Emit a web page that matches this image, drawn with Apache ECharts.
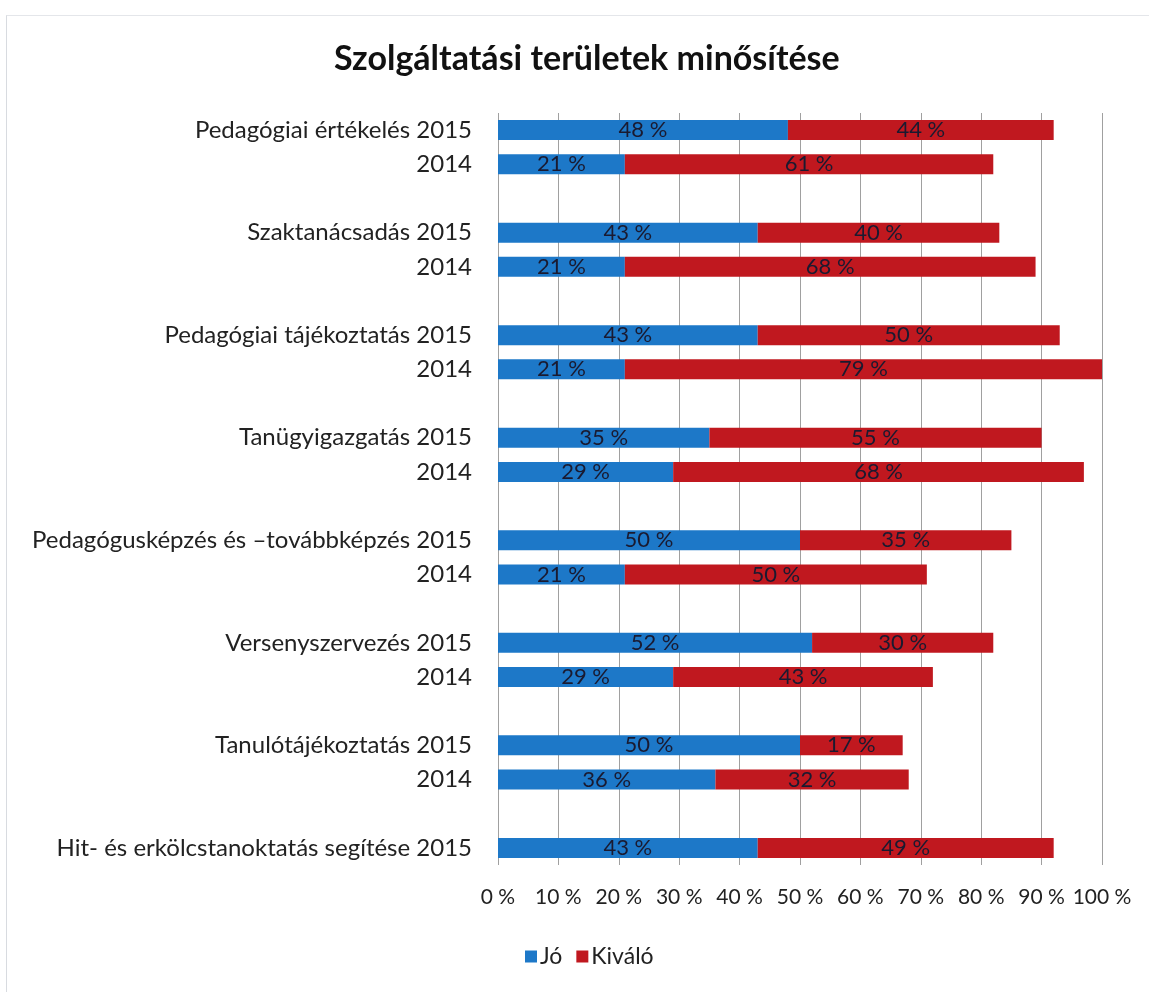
<!DOCTYPE html>
<html>
    <head>
        <meta charset="utf-8">
        <script src="https://cdn.jsdelivr.net/npm/echarts@6/dist/echarts.min.js"></script>
    </head>
    <body>
        <style>
            html, body {
                margin: 0;
                background: #fff;
            }
            #main {
                position: absolute;
                left: 6px;
                top: 15px;
                width: 1143px;
                height: 977px;
                border-left: 1px solid #d8dbe0;
                border-top: 1px solid #e4e6ea;
            }
        </style>

        <div id="main"></div>

        <script>
            // üres sorok ('') választják el a csoportokat
            var categories = [
                'Pedagógiai értékelés 2015', '2014', '',
                'Szaktanácsadás 2015', '2014', '',
                'Pedagógiai tájékoztatás 2015', '2014', '',
                'Tanügyigazgatás 2015', '2014', '',
                'Pedagógusképzés és –továbbképzés 2015', '2014', '',
                'Versenyszervezés 2015', '2014', '',
                'Tanulótájékoztatás 2015', '2014', '',
                'Hit- és erkölcstanoktatás segítése 2015'
            ];
            var jo = [48, 21, null, 43, 21, null, 43, 21, null, 35, 29, null, 50, 21, null, 52, 29, null, 50, 36, null, 43];
            var kivalo = [44, 61, null, 40, 68, null, 50, 79, null, 55, 68, null, 35, 50, null, 30, 43, null, 17, 32, null, 49];

            var font = 'Lato, "Open Sans", sans-serif';
            var chart = echarts.init(document.getElementById('main'));

            var barLabel = {
                show: true,
                position: 'inside',
                formatter: '{c} %',
                color: '#1a1a30',
                fontFamily: font,
                fontSize: 22
            };

            chart.setOption({
                animation: false,
                title: {
                    text: 'Szolgáltatási területek minősítése',
                    left: 322,
                    top: 21,
                    textStyle: {fontFamily: font, fontSize: 34, fontWeight: 'bold', color: '#111'}
                },
                legend: {
                    bottom: 20,
                    left: 513,
                    itemWidth: 12,
                    itemHeight: 12,
                    itemGap: 14,
                    icon: 'rect',
                    textStyle: {fontFamily: font, fontSize: 23, color: '#222', padding: [0, 0, 0, -2]},
                    data: ['Jó', 'Kiváló']
                },
                grid: {left: 491, right: 48, top: 97, bottom: 128},
                xAxis: {
                    type: 'value',
                    min: 0,
                    max: 100,
                    interval: 10,
                    axisLine: {show: false},
                    axisTick: {show: false},
                    splitLine: {show: true, lineStyle: {color: '#a0a0a0', width: 1}},
                    axisLabel: {
                        formatter: '{value} %',
                        fontFamily: font,
                        fontSize: 21,
                        color: '#222',
                        margin: 22
                    }
                },
                yAxis: {
                    type: 'category',
                    inverse: true,
                    data: categories,
                    axisLine: {show: false},
                    axisTick: {show: false},
                    axisLabel: {fontFamily: font, fontSize: 24, color: '#222', margin: 26}
                },
                series: [
                    {
                        name: 'Jó',
                        type: 'bar',
                        stack: 'total',
                        barWidth: 20,
                        itemStyle: {color: '#1d78c8'},
                        label: barLabel,
                        data: jo
                    },
                    {
                        name: 'Kiváló',
                        type: 'bar',
                        stack: 'total',
                        barWidth: 20,
                        itemStyle: {color: '#c0181f'},
                        label: barLabel,
                        data: kivalo
                    }
                ]
            });
        </script>
    </body>
</html>
